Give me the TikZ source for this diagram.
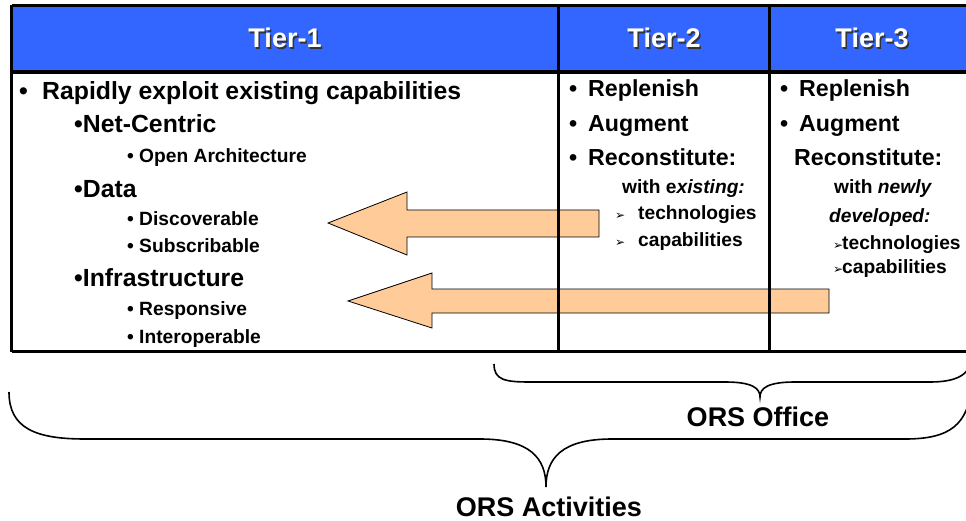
\documentclass[tikz,border=0pt]{standalone}
\usepackage{fontspec}
\setmainfont{Liberation Sans}
\newfontfamily\symfont{DejaVu Sans}
\definecolor{hdrblue}{RGB}{51,102,255}
\definecolor{peach}{RGB}{255,204,153}
\newcommand{\arrbul}{{\symfont\fontsize{12}{12}\selectfont ➢}}
\newcommand{\fs}[1]{\fontsize{#1}{#1}\selectfont\bfseries}
\tikzset{
	txt/.style={anchor=base west, inner sep=0pt},
	hdr/.style={anchor=base, inner sep=0pt, font=\fs{27}, text=white},
	hdrshadow/.style={hdr, text=black!80},
	lvlone/.style={txt, font=\fs{24.8}},
	lvltwo/.style={txt, font=\fs{23.2}},
	lvlsmall/.style={txt, font=\fs{19.2}},
	gridline/.style={line width=3.5pt},
	fatarrow/.style={fill=peach, draw=black, line width=0.8pt},
	bracecurve/.style={line width=1.6pt},
}
\begin{document}
\begin{tikzpicture}[x=1pt,y=-1pt]
	\useasboundingbox (0,0) rectangle (966,521);
	% header band
	\fill[hdrblue] (11.5,5.5) rectangle (975,72);
	\node[hdrshadow] (t1s) at (286.5,49.5) {Tier-1};
	\node[hdr] (t1) at (285,48) {Tier-1};
	\node[hdrshadow] (t2s) at (665.5,49.5) {Tier-2};
	\node[hdr] (t2) at (664,48) {Tier-2};
	\node[hdrshadow] (t3s) at (873.5,49.5) {Tier-3};
	\node[hdr] (t3) at (872,48) {Tier-3};
	% arrows
	\coordinate (aonetip) at (328,223);
	\coordinate (aoneend) at (599,223);
	\filldraw[fatarrow] (aonetip) -- (407,192) -- (407,210) -- (aoneend |- 0,210) -- (aoneend |- 0,237) -- (407,237) -- (407,255) -- cycle;
	\coordinate (atwotip) at (348,301);
	\coordinate (atwoend) at (829,301);
	\filldraw[fatarrow] (atwotip) -- (432,273) -- (432,289) -- (atwoend |- 0,289) -- (atwoend |- 0,313) -- (432,313) -- (432,328) -- cycle;
	% table lines
	\draw[gridline] (11.5,5.5) -- (975,5.5);
	\draw[gridline] (11.5,72) -- (975,72);
	\draw[gridline] (11.5,351.5) -- (975,351.5);
	\draw[gridline] (11.5,5.5) -- (11.5,351.5);
	\draw[line width=3pt] (558,5.5) -- (558,351.5);
	\draw[line width=3pt] (769.5,5.5) -- (769.5,351.5);
	% tier-1
	\node[lvlone] (rapid) at (19,100) {\makebox[23pt][l]{•}Rapidly exploit existing capabilities};
	\node[lvlone] (netc) at (74,133) {•Net-Centric};
	\node[lvlsmall] (open) at (127,163) {• Open Architecture};
	\node[lvlone] (data) at (74,198) {•Data};
	\node[lvlsmall] (disc) at (127,226) {• Discoverable};
	\node[lvlsmall] (subs) at (127,253) {• Subscribable};
	\node[lvlone] (infra) at (74,287) {•Infrastructure};
	\node[lvlsmall] (resp) at (127,316) {• Responsive};
	\node[lvlsmall] (inter) at (127,343) {• Interoperable};
	% tier-2
	\node[lvltwo] (replb) at (569,97) {\makebox[19pt][l]{•}Replenish};
	\node[lvltwo] (augb) at (569,132) {\makebox[19pt][l]{•}Augment};
	\node[lvltwo] (reconb) at (569,166) {\makebox[19pt][l]{•}Reconstitute:};
	\node[lvlsmall] (withb) at (622,194) {with e\textit{xisting:}};
	\node[lvlsmall] (techb) at (615,220) {\makebox[23pt][l]{\arrbul}technologies};
	\node[lvlsmall] (capb) at (615,247) {\makebox[23pt][l]{\arrbul}capabilities};
	% tier-3
	\node[lvltwo] (replc) at (780,97) {\makebox[19pt][l]{•}Replenish};
	\node[lvltwo] (augc) at (780,132) {\makebox[19pt][l]{•}Augment};
	\node[lvltwo] (reconc) at (794,166) {Reconstitute:};
	\node[lvlsmall] (withc) at (834,194) {with \textit{newly}};
	\node[lvlsmall] (devc) at (829,223) {\textit{developed:}};
	\node[lvlsmall] (techc) at (833,250) {\makebox[9pt][l]{\arrbul}technologies};
	\node[lvlsmall] (capc) at (833,274) {\makebox[9pt][l]{\arrbul}capabilities};
	% braces
	\coordinate (offl) at (494,364);
	\coordinate (offtip) at (760,397);
	\coordinate (offr) at (972,358);
	\draw[bracecurve] (offl) .. controls (494,380) and (505,382) .. (530,382) -- (725,382)
		.. controls (752,382) and (760,388) .. (offtip)
		.. controls (760,388) and (768,382) .. (795,382) -- (930,382)
		.. controls (958,382) and (970,374) .. (offr);
	\node[anchor=base, inner sep=0pt, font=\fs{27}] (office) at (758,426) {ORS Office};
	\coordinate (actl) at (9,392);
	\coordinate (acttip) at (546,487);
	\coordinate (actr) at (972,385);
	\draw[bracecurve] (actl) .. controls (9,428) and (35,439) .. (85,439) -- (480,439)
		.. controls (530,439) and (546,458) .. (acttip)
		.. controls (546,458) and (562,439) .. (612,439) -- (905,439)
		.. controls (950,439) and (968,425) .. (actr);
	\node[anchor=base, inner sep=0pt, font=\fs{27}] (activ) at (549,516) {ORS Activities};
\end{tikzpicture}
\end{document}
